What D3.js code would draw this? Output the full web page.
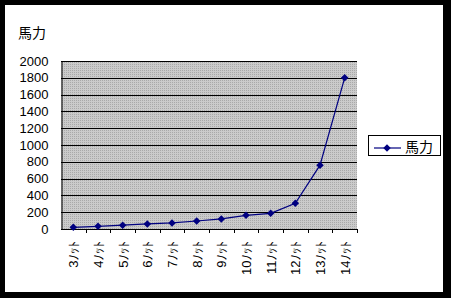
<!DOCTYPE html>
<html>
<head>
<meta charset="utf-8">
<script src="https://cdn.jsdelivr.net/npm/d3@7"></script>
<style>
  body { margin: 0; background: #000; }
  svg text { font-family: "Liberation Sans", Arial, "Noto Sans CJK JP", sans-serif; }
</style>
</head>
<body>
<script>
// data
var categories = ["3ﾉｯﾄ", "4ﾉｯﾄ", "5ﾉｯﾄ", "6ﾉｯﾄ", "7ﾉｯﾄ", "8ﾉｯﾄ",
  "9ﾉｯﾄ", "10ﾉｯﾄ", "11ﾉｯﾄ", "12ﾉｯﾄ", "13ﾉｯﾄ", "14ﾉｯﾄ"];
var horsepower = [20, 32, 45, 60, 72, 95, 120, 163, 187, 306, 760, 1800];
var yTicks = [0, 200, 400, 600, 800, 1000, 1200, 1400, 1600, 1800, 2000];
var seriesName = "馬力";

var w = 451;
var h = 298;
var plot = { left: 61, top: 61, right: 357, bottom: 229 };

var svg = d3.select("body")
  .append("svg")
  .attr("width", w)
  .attr("height", h)
  .style("display", "block");

svg.append("rect").attr("width", w).attr("height", h).attr("fill", "#000");
svg.append("rect").attr("x", 5).attr("y", 5).attr("width", 438).attr("height", 287).attr("fill", "#fff");

// dotted grey fill like the old excel plot area
var defs = svg.append("defs");
var pat = defs.append("pattern")
  .attr("id", "dots")
  .attr("width", 2).attr("height", 2)
  .attr("patternUnits", "userSpaceOnUse");
pat.append("rect").attr("width", 2).attr("height", 2).attr("fill", "#cbcbcb");
pat.append("rect").attr("width", 1).attr("height", 1).attr("fill", "#a9a9a9");

let xScale = d3.scaleBand()
  .domain(categories)
  .range([plot.left, plot.right]);

let yScale = d3.scaleLinear()
  .domain([0, 2000])
  .range([plot.bottom, plot.top]);

svg.append("rect")
  .attr("x", plot.left)
  .attr("y", plot.top)
  .attr("width", plot.right - plot.left)
  .attr("height", plot.bottom - plot.top)
  .attr("fill", "url(#dots)");

// gridlines
svg.selectAll("line.grid")
  .data(yTicks.filter(function (d) { return d > 0; }))
  .enter()
  .append("line")
  .attr("class", "grid")
  .attr("x1", plot.left)
  .attr("x2", plot.right)
  .attr("y1", function (d) { return Math.round(yScale(d)) + 0.5; })
  .attr("y2", function (d) { return Math.round(yScale(d)) + 0.5; })
  .attr("stroke", "#000")
  .attr("stroke-width", 1);

// y axis
var yAxis = svg.append("g")
  .attr("transform", "translate(" + (plot.left + 0.5) + ",0)")
  .call(d3.axisLeft(yScale).tickValues(yTicks).tickFormat(d3.format("d")).tickSize(0).tickPadding(13));
yAxis.select(".domain").attr("stroke", "#000");
yAxis.selectAll("text")
  .attr("font-size", "13px")
  .attr("fill", "#000");

svg.append("text")
  .attr("x", 18)
  .attr("y", 38)
  .attr("font-size", "14px")
  .style("font-family", "'Noto Sans CJK JP', sans-serif")
  .text(seriesName);

// x axis
svg.append("line")
  .attr("x1", plot.left)
  .attr("x2", plot.right)
  .attr("y1", plot.bottom + 0.5)
  .attr("y2", plot.bottom + 0.5)
  .attr("stroke", "#000");

svg.selectAll("line.xtick")
  .data(categories)
  .enter()
  .append("line")
  .attr("class", "xtick")
  .attr("x1", function (d, i) { return Math.round(plot.left + xScale.step() * (i + 1)) + 0.5; })
  .attr("x2", function (d, i) { return Math.round(plot.left + xScale.step() * (i + 1)) + 0.5; })
  .attr("y1", plot.bottom)
  .attr("y2", plot.bottom + 4)
  .attr("stroke", "#000");

svg.selectAll("text.xlab")
  .data(categories)
  .enter()
  .append("text")
  .attr("class", "xlab")
  .attr("transform", function (d) {
    return "translate(" + (xScale(d) + xScale.bandwidth() / 2 + 5) + ",241) rotate(-90)";
  })
  .attr("text-anchor", "end")
  .attr("font-size", "13px")
  .style("font-family", "'Liberation Sans', 'Noto Sans CJK JP', sans-serif")
  .text(function (d) { return d; });

// series
var line = d3.line()
  .x(function (d, i) { return xScale(categories[i]) + xScale.bandwidth() / 2; })
  .y(function (d) { return yScale(d); });

svg.append("path")
  .datum(horsepower)
  .attr("d", line)
  .attr("fill", "none")
  .attr("stroke", "#000080")
  .attr("stroke-width", 1.2);

var diamond = d3.symbol().type(d3.symbolDiamond2).size(36);

svg.selectAll("path.marker")
  .data(horsepower)
  .enter()
  .append("path")
  .attr("class", "marker")
  .attr("d", diamond)
  .attr("transform", function (d, i) {
    return "translate(" + (xScale(categories[i]) + xScale.bandwidth() / 2) + "," + yScale(d) + ")";
  })
  .attr("fill", "#000080");

// legend
var legend = svg.append("g");
legend.append("rect")
  .attr("x", 368.5).attr("y", 135.5)
  .attr("width", 72).attr("height", 20)
  .attr("fill", "#fff")
  .attr("stroke", "#000");
legend.append("line")
  .attr("x1", 374).attr("x2", 401)
  .attr("y1", 148).attr("y2", 148)
  .attr("stroke", "#000080")
  .attr("stroke-width", 1.2);
legend.append("path")
  .attr("d", diamond)
  .attr("transform", "translate(387,148)")
  .attr("fill", "#000080");
legend.append("text")
  .attr("x", 405)
  .attr("y", 152)
  .attr("font-size", "14px")
  .style("font-family", "'Noto Sans CJK JP', sans-serif")
  .text(seriesName);
</script>
</body>
</html>
